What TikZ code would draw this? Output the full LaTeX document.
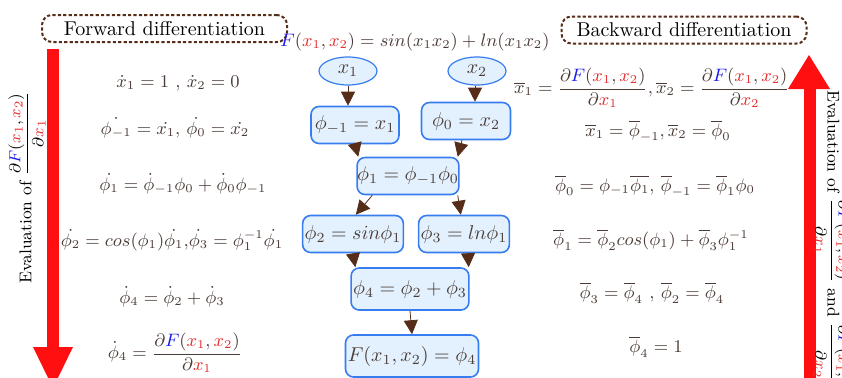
\documentclass[tikz,border=0pt]{standalone}
\usepackage{amsmath}
\usetikzlibrary{arrows.meta,shapes.geometric}
\definecolor{txt}{RGB}{75,60,55}
\definecolor{redx}{RGB}{228,45,45}
\definecolor{blueF}{RGB}{25,25,235}
\definecolor{nodefill}{RGB}{226,241,253}
\definecolor{nodedraw}{RGB}{55,125,240}
\definecolor{brn}{RGB}{85,45,25}
\definecolor{bigred}{RGB}{255,15,15}
\newcommand{\rx}[1]{{\color{redx}#1}}
\newcommand{\bF}{{\color{blueF}F}}
\newcommand{\dFr}[1]{\dfrac{\partial\bF(\rx{x_1},\rx{x_2})}{\partial\rx{#1}}}
\begin{document}
\begin{tikzpicture}[x=0.5pt,y=-0.5pt,
  gbox/.style={draw=nodedraw, fill=nodefill, rounded corners=4pt, line width=0.8pt,
    minimum height=18.5pt, inner xsep=1pt, inner ysep=0pt, text=txt},
  gell/.style={ellipse, draw=nodedraw, fill=nodefill, line width=0.6pt,
    minimum width=29pt, minimum height=14pt, inner sep=0pt, text=txt},
  arr/.style={draw=brn, line width=0.4pt, -{Triangle[length=7pt,width=7pt,fill=brn]}},
  eq/.style={text=txt, inner sep=0pt, font=\fontsize{9.2}{11}\selectfont},
  ttl/.style={draw=brn, dash pattern=on 1.6pt off 1.1pt, line width=1pt, rounded corners=5pt,
    minimum width=122.5pt, minimum height=13.5pt, inner sep=0pt, text=black},
  vtxt/.style={inner sep=0pt, font=\fontsize{8.5}{10}\selectfont}]
\useasboundingbox (0,0) rectangle (842,377);

% big red arrows
\fill[bigred] (47,49) rectangle (59,348);
\fill[bigred] (33,347) -- (73,347) -- (53,388) -- cycle;
\fill[bigred] (804,88) rectangle (816,390);
\fill[bigred] (788,89) -- (830,89) -- (809,55) -- cycle;

% titles
\node[ttl] (fw) at (164.5,28.5) {Forward differentiation};
\node[ttl] (bw) at (684,30) {Backward differentiation};

% vertical texts
\node[vtxt, rotate=90, anchor=west] (lv) at (27,284)
  {Evaluation of $\dFr{x_1}$};
\node[vtxt, rotate=-90, anchor=west] (rv) at (832,90)
  {Evaluation of $\dFr{x_1}$ and $\dFr{x_2}$};

% function
\node[eq, font=\fontsize{9}{11}\selectfont] (fun) at (415,42) {$\bF(\rx{x_1},\rx{x_2})=sin(x_1x_2)+ln(x_1x_2)$};

% graph
\node[gell] (x1) at (348,71) {$x_1$};
\node[gell] (x2) at (477,71) {$x_2$};
\node[gbox, minimum width=44pt] (pm1) at (355,125) {$\phi_{-1}=x_1$};
\node[gbox, minimum width=44.5pt] (p0) at (466,121) {$\phi_0=x_2$};
\node[gbox, minimum width=44.5pt, inner xsep=0pt] (p1) at (408,176) {$\phi_1=\phi_{-1}\phi_0$};
\node[gbox, minimum width=45pt] (p2) at (353,234) {$\phi_2=sin\phi_1$};
\node[gbox, minimum width=45pt] (p3) at (464,234) {$\phi_3=ln\phi_1$};
\node[gbox, minimum width=51.5pt, minimum height=21pt] (p4) at (410,289) {$\phi_4=\phi_2+\phi_3$};
\node[gbox, minimum width=66.5pt, minimum height=21pt] (fo) at (412,356) {$F(x_1,x_2)=\phi_4$};

\draw[arr] (x1.south) -- (x1.south |- pm1.north);
\draw[arr] (x2.south -| 475,0) -- (475,0 |- p0.north);
\draw[arr] (pm1.south) -- ([xshift=1pt]p1.north west);
\draw[arr] ([xshift=-2pt]p0.south) -- ([xshift=-1pt]p1.north east);
\draw[arr] ([xshift=8pt]p1.south west) -- ([xshift=27pt]p2.north west);
\draw[arr] ([xshift=-1pt]p1.south east) -- ([xshift=21.5pt]p3.north west);
\draw[arr] (p2.south) -- ([xshift=2.5pt]p4.north west);
\draw[arr] ([xshift=2pt]p3.south) -- ([xshift=-0.5pt]p4.north east);
\draw[arr] (p4.south) -- (fo.north);

% forward equations
\node[eq] (f1) at (178,83) {$\dot{x}_1=1$ , $\dot{x}_2=0$};
\node[eq] (f2) at (175,128) {$\dot{\phi_{-1}}=\dot{x_1},\, \dot{\phi_0}=\dot{x_2}$};
\node[eq] (f3) at (183,184) {$\dot{\phi_1}=\dot{\phi}_{-1}\phi_0+\dot{\phi}_0\phi_{-1}$};
\node[eq] (f4) at (172,240) {$\dot{\phi_2}=cos(\phi_1)\dot{\phi_1}\text{,}\dot{\phi_3}=\phi_1^{-1}\dot{\phi_1}$};
\node[eq] (f5) at (172,297) {$\dot{\phi}_4=\dot{\phi}_2+\dot{\phi}_3$};
\node[eq] (f6) at (175,353) {$\dot{\phi}_4=\dFr{x_1}$};

% backward equations
\node[eq] (b1) at (652,88) {$\overline{x}_1=\dFr{x_1},\overline{x}_2=\dFr{x_2}$};
\node[eq] (b2) at (658,131) {$\overline{x}_1=\overline{\phi}_{-1},\overline{x}_2=\overline{\phi}_0$};
\node[eq] (b3) at (655,186) {$\overline{\phi}_0=\phi_{-1}\overline{\phi_1},\,\overline{\phi}_{-1}=\overline{\phi}_1\phi_0$};
\node[eq] (b4) at (651,240) {$\overline{\phi}_1=\overline{\phi}_2cos(\phi_1)+\overline{\phi}_3\phi_1^{-1}$};
\node[eq] (b5) at (652,293) {$\overline{\phi}_3=\overline{\phi}_4$ , $\overline{\phi}_2=\overline{\phi}_4$};
\node[eq] (b6) at (656,347) {$\overline{\phi}_4=1$};
\end{tikzpicture}
\end{document}
